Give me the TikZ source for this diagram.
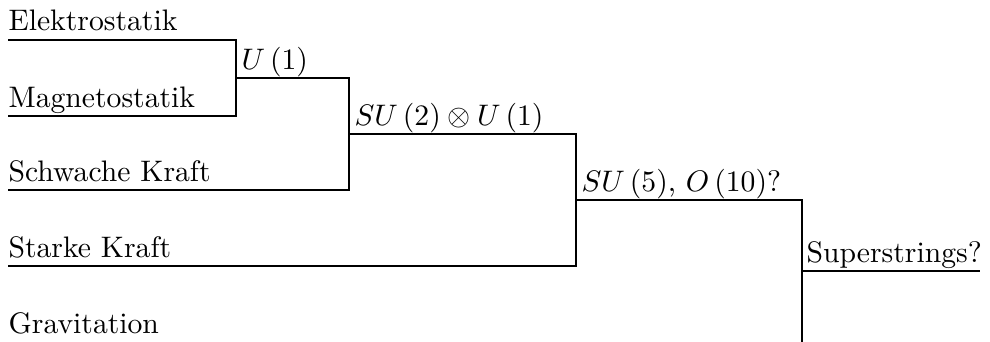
\documentclass[tikz,border=0pt]{standalone}
\usepackage{amsmath}
\usepackage{amssymb}
\usepackage{tikz}

\tikzset{lbl/.style={anchor=base west, inner sep=0pt}}

\begin{document}
\begin{tikzpicture}[x=0.337pt, y=-0.337pt]
	\begin{scope}
	  \clip (0,0) rectangle (990,341);

	  \coordinate (elA) at (8,40);
	  \coordinate (elB) at (236,40);
	  \coordinate (maA) at (8,116);
	  \coordinate (maB) at (236,116);
	  \coordinate (uA) at (236,78);
	  \coordinate (uB) at (349,78);
	  \coordinate (swA) at (8,190);
	  \coordinate (swB) at (349,190);
	  \coordinate (suA) at (349,134);
	  \coordinate (suB) at (576,134);
	  \coordinate (stA) at (8,266);
	  \coordinate (stB) at (576,266);
	  \coordinate (guA) at (576,200);
	  \coordinate (guB) at (802,200);
	  \coordinate (grA) at (8,344);
	  \coordinate (grB) at (802,344);
	  \coordinate (ssA) at (802,271);
	  \coordinate (ssB) at (980,271);

	  \draw (elA) -- (elB) -- (maB) -- (maA);
	  \draw (uA) -- (uB) -- (swB) -- (swA);
	  \draw (suA) -- (suB) -- (stB) -- (stA);
	  \draw (guA) -- (guB) -- (grB) -- (grA);
	  \draw (ssA) -- (ssB);

	  \node[lbl] (elT) at ([shift={(0,-9)}]elA) {Elektrostatik};
	  \node[lbl] (maT) at ([shift={(0,-9)}]maA) {Magnetostatik};
	  \node[lbl] (swT) at ([shift={(0,-9)}]swA) {Schwache Kraft};
	  \node[lbl] (stT) at ([shift={(0,-9)}]stA) {Starke Kraft};
	  \node[lbl] (grT) at ([shift={(0,-11)}]grA) {Gravitation};

	  \node[lbl] (uT) at ([shift={(5,-9)}]uA) {$U\left(1\right)$};
	  \node[lbl] (suT) at ([shift={(5,-9)}]suA) {$SU\left(2\right)\otimes U\left(1\right)$};
	  \node[lbl] (guT) at ([shift={(5,-9)}]guA) {$SU\left(5\right)$, $O\left(10\right)$?};
	  \node[lbl] (ssT) at ([shift={(4,-9)}]ssA) {Superstrings?};
	\end{scope}
\end{tikzpicture}
\end{document}
